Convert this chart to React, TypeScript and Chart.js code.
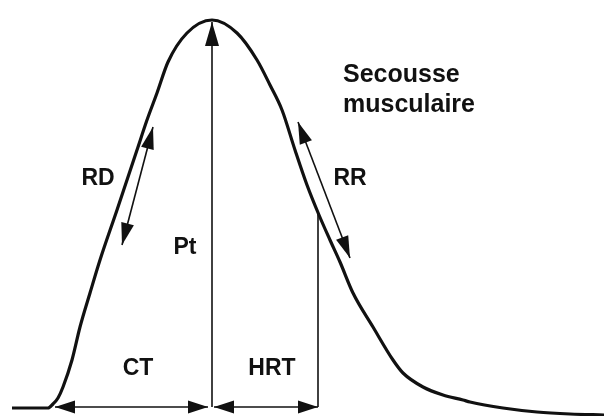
import React, { useEffect, useRef } from "react";
import { Chart, registerables } from "chart.js";

Chart.register(...registerables);

// Twitch curve (time units on x, force drawn downward-from-top scale on y)
const curveX = [12, 48, 53, 58, 63, 72, 80, 90, 100, 117, 127, 137, 147, 157, 168, 187, 212, 237, 257, 270, 282, 295, 307, 319, 330, 340, 353, 373, 393, 403, 423, 443, 463, 470, 503, 537, 570, 604];
const curveY = [408, 408, 404, 398, 387, 360, 327, 293, 260, 210, 180, 150, 120, 93, 62, 33, 20, 33, 60, 85, 110, 150, 185, 215, 240, 262, 293, 327, 360, 373, 387, 395, 400, 402, 408, 412, 414, 415];

// Key time markers
const onsetX = 55;
const peakX = 212;
const peakY = 22;
const halfRelaxX = 318;
const halfRelaxY = 213;
const baseArrowY = 407;

// Slope arrows [x1, y1, x2, y2]
const rdArrow = [153, 127, 122, 245];
const rrArrow = [298, 122, 350, 258];

// Labels
const labelTexts = ["RD", "RR", "Pt", "CT", "HRT"];
const labelX = [98, 350, 185, 138, 272];
const labelY = [179, 179, 248, 369, 369];
const titleLines = ["Secousse", "musculaire"];
const titleX = 343;
const titleY = [82, 112];

function arrowHead(ctx: CanvasRenderingContext2D, x1: number, y1: number, x2: number, y2: number, len: number, hw: number) {
  // head at (x2,y2) pointing from (x1,y1)
  const a = Math.atan2(y2 - y1, x2 - x1);
  const bx = x2 - len * Math.cos(a);
  const by = y2 - len * Math.sin(a);
  const nx = -Math.sin(a) * hw;
  const ny = Math.cos(a) * hw;
  ctx.beginPath();
  ctx.moveTo(x2, y2);
  ctx.lineTo(bx + nx, by + ny);
  ctx.lineTo(bx - nx, by - ny);
  ctx.closePath();
  ctx.fill();
}

function arrow(ctx: CanvasRenderingContext2D, x1: number, y1: number, x2: number, y2: number, both: boolean, len = 20, hw = 6.5) {
  ctx.beginPath();
  ctx.moveTo(x1, y1);
  ctx.lineTo(x2, y2);
  ctx.stroke();
  arrowHead(ctx, x1, y1, x2, y2, len, hw);
  if (both) arrowHead(ctx, x2, y2, x1, y1, len, hw);
}

const annotationPlugin = {
  id: "twitchAnnotations",
  afterDatasetsDraw(chart: any) {
    const ctx: CanvasRenderingContext2D = chart.ctx;
    const sx = chart.scales.x;
    const sy = chart.scales.y;
    const X = (v: number) => sx.getPixelForValue(v);
    const Y = (v: number) => sy.getPixelForValue(v);
    ctx.save();
    ctx.strokeStyle = "#111";
    ctx.fillStyle = "#111";
    ctx.lineWidth = 1.6;
    // Pt
    arrow(ctx, X(peakX), Y(baseArrowY), X(peakX), Y(peakY), false, 24, 7);
    // CT
    arrow(ctx, X(onsetX), Y(baseArrowY), X(peakX - 4), Y(baseArrowY), true);
    // HRT
    arrow(ctx, X(peakX + 2), Y(baseArrowY), X(halfRelaxX), Y(baseArrowY), true);
    // HRT vertical
    ctx.beginPath();
    ctx.moveTo(X(halfRelaxX), Y(halfRelaxY));
    ctx.lineTo(X(halfRelaxX), Y(baseArrowY));
    ctx.stroke();
    // RD / RR
    arrow(ctx, X(rdArrow[0]), Y(rdArrow[1]), X(rdArrow[2]), Y(rdArrow[3]), true, 22, 6.5);
    arrow(ctx, X(rrArrow[0]), Y(rrArrow[1]), X(rrArrow[2]), Y(rrArrow[3]), true, 22, 6.5);

    ctx.textAlign = "center";
    ctx.textBaseline = "middle";
    ctx.font = "bold 23px 'Liberation Sans', Arial, sans-serif";
    labelTexts.forEach((t, i) => ctx.fillText(t, X(labelX[i]), Y(labelY[i])));
    ctx.textAlign = "left";
    ctx.textBaseline = "alphabetic";
    ctx.font = "bold 25px 'Liberation Sans', Arial, sans-serif";
    titleLines.forEach((t, i) => ctx.fillText(t, X(titleX), Y(titleY[i])));
    ctx.restore();
  },
};

export default function App() {
  const ref = useRef<HTMLCanvasElement | null>(null);
  useEffect(() => {
    document.body.style.margin = "0";
    const canvas = ref.current;
    if (!canvas) return;
    const chart = new Chart(canvas, {
      type: "line",
      data: {
        datasets: [
          {
            data: curveX.map((x, i) => ({ x, y: curveY[i] })),
            borderColor: "#111",
            borderWidth: 3.2,
            pointRadius: 0,
            fill: false,
            cubicInterpolationMode: "monotone",
          },
        ],
      },
      options: {
        animation: false,
        responsive: false,
        devicePixelRatio: 1,
        layout: { padding: 0 },
        plugins: { legend: { display: false }, tooltip: { enabled: false } },
        scales: {
          x: { type: "linear", display: false, min: 0, max: 606 },
          y: { type: "linear", display: false, min: 0, max: 416, reverse: true },
        },
      },
      plugins: [annotationPlugin],
    } as any);
    return () => chart.destroy();
  }, []);
  return (
    <div style={{ width: 606, height: 416, background: "#fff" }}>
      <canvas ref={ref} width={606} height={416} />
    </div>
  );
}
